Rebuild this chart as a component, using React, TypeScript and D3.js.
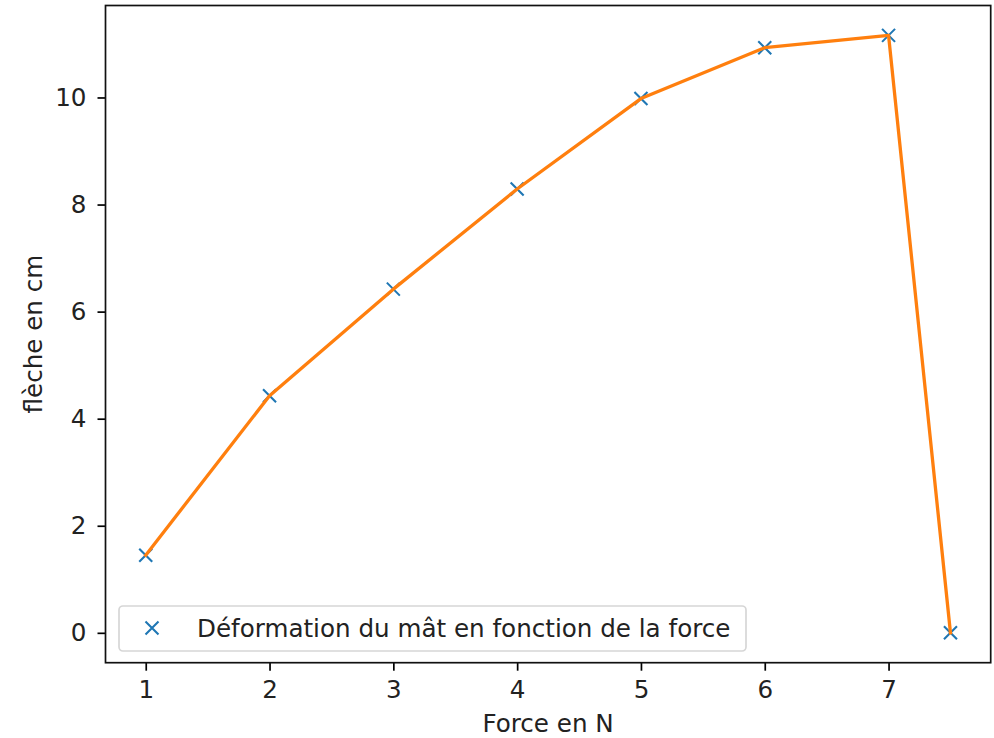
import React, {useEffect, useRef} from 'react';
import * as d3 from 'd3';

// mesures : force appliquée (N) et flèche du mât (cm)
const forces = [1, 2, 3, 4, 5, 6, 7, 7.5];
const fleches = [1.45, 4.43, 6.42, 8.29, 9.98, 10.93, 11.16, 0];
const xTicks = [1, 2, 3, 4, 5, 6, 7];
const yTicks = [0, 2, 4, 6, 8, 10];
const legendLabel = 'Déformation du mât en fonction de la force';

const width = 994;
const height = 738;
const margin = {top: 5.5, right: 3.3, bottom: 75.3, left: 105.5};
const fontSize = 24.6;
const font = '"DejaVu Sans", sans-serif';

const App = () => {
    const anchor = useRef<SVGSVGElement>(null);

    useEffect(() => {
        const svg = d3.select(anchor.current);
        svg.selectAll('*').remove();

        // matplotlib style: 5% padding around data range
        const xPad = (d3.max(forces)! - d3.min(forces)!) * 0.05;
        const yPad = (d3.max(fleches)! - d3.min(fleches)!) * 0.05;
        const x = d3.scaleLinear()
            .domain([d3.min(forces)! - xPad, d3.max(forces)! + xPad])
            .range([margin.left, width - margin.right]);
        const y = d3.scaleLinear()
            .domain([d3.min(fleches)! - yPad, d3.max(fleches)! + yPad])
            .range([height - margin.bottom, margin.top]);

        const pts: [number, number][] = forces.map((f, i) => [f, fleches[i]]);

        // markers first, the line is drawn over them
        const m = 6.5;
        const markers = svg.append('g');
        pts.forEach(([f, v]) => {
            const cx = x(f), cy = y(v);
            markers.append('path')
                .attr('d', `M${cx - m},${cy - m}L${cx + m},${cy + m}M${cx - m},${cy + m}L${cx + m},${cy - m}`)
                .attr('stroke', '#1f77b4')
                .attr('stroke-width', 2.1);
        });

        const line = d3.line<[number, number]>().x(d => x(d[0])).y(d => y(d[1]));
        svg.append('path')
            .datum(pts)
            .attr('d', line)
            .attr('fill', 'none')
            .attr('stroke', '#ff7f0e')
            .attr('stroke-width', 3.3)
            .attr('stroke-linejoin', 'round')
            .attr('stroke-linecap', 'square');

        // axes
        const xAxis = svg.append('g')
            .attr('transform', `translate(0,${height - margin.bottom})`)
            .call(d3.axisBottom(x).tickValues(xTicks).tickFormat(d3.format('d')).tickSize(8).tickPadding(10));
        const yAxis = svg.append('g')
            .attr('transform', `translate(${margin.left},0)`)
            .call(d3.axisLeft(y).tickValues(yTicks).tickFormat(d3.format('d')).tickSize(8).tickPadding(11));

        [xAxis, yAxis].forEach(a => {
            a.select('.domain').remove();
            a.selectAll('line').attr('stroke', '#000').attr('stroke-width', 1.7);
            a.selectAll('text')
                .attr('font-family', font)
                .attr('font-size', fontSize)
                .attr('fill', '#222');
        });

        // frame
        svg.append('rect')
            .attr('x', margin.left)
            .attr('y', margin.top)
            .attr('width', width - margin.left - margin.right)
            .attr('height', height - margin.top - margin.bottom)
            .attr('fill', 'none')
            .attr('stroke', '#111')
            .attr('stroke-width', 1.7);

        // axis titles
        svg.append('text')
            .attr('x', (margin.left + width - margin.right) / 2)
            .attr('y', 732)
            .attr('text-anchor', 'middle')
            .attr('font-family', font)
            .attr('font-size', fontSize)
            .attr('fill', '#222')
            .text('Force en N');
        svg.append('text')
            .attr('transform', `translate(42,${(margin.top + height - margin.bottom) / 2}) rotate(-90)`)
            .attr('text-anchor', 'middle')
            .attr('font-family', font)
            .attr('font-size', fontSize)
            .attr('fill', '#222')
            .text('flèche en cm');

        // legend
        const lg = svg.append('g');
        lg.append('rect')
            .attr('x', 119)
            .attr('y', 606)
            .attr('width', 627)
            .attr('height', 45)
            .attr('rx', 4)
            .attr('fill', 'rgba(255,255,255,0.8)')
            .attr('stroke', '#d6d6d6')
            .attr('stroke-width', 1.7);
        const lx = 152, ly = 628;
        lg.append('path')
            .attr('d', `M${lx - m},${ly - m}L${lx + m},${ly + m}M${lx - m},${ly + m}L${lx + m},${ly - m}`)
            .attr('stroke', '#1f77b4')
            .attr('stroke-width', 2.1);
        lg.append('text')
            .attr('x', 197)
            .attr('y', ly + 8.5)
            .attr('font-family', font)
            .attr('font-size', fontSize)
            .attr('fill', '#222')
            .text(legendLabel);
    }, []);

    return <svg ref={anchor} width={width} height={height}
                style={{position: 'absolute', left: 0, top: 0, background: '#fff'}}/>;
};

export default App;
